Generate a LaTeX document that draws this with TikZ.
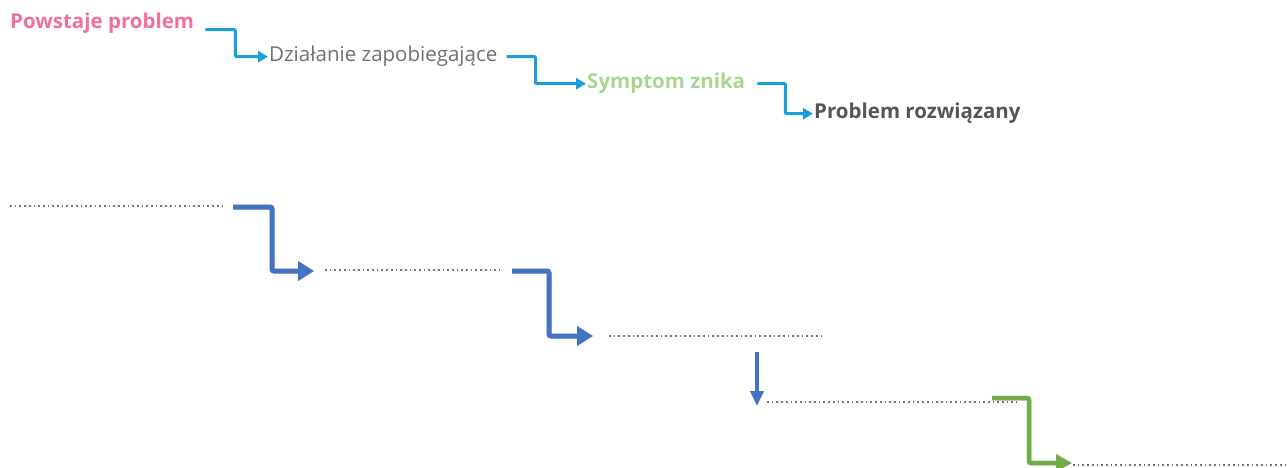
\documentclass[tikz,border=0pt]{standalone}
\usepackage{fontspec}
\setmainfont{Open Sans}
\usetikzlibrary{arrows.meta}
\definecolor{pinkt}{HTML}{F0709A}
\definecolor{grayt}{HTML}{707070}
\definecolor{greent}{HTML}{A8D590}
\definecolor{darkt}{HTML}{555555}
\definecolor{cyanar}{HTML}{1B9FDA}
\definecolor{bluear}{HTML}{4472C4}
\definecolor{greenar}{HTML}{70AD47}
\tikzset{
  lbl/.style={anchor=base west, inner sep=1pt, font=\fontsize{20.5}{24}\selectfont},
  boldlbl/.style={lbl, font=\fontsize{20.5}{24}\selectfont\bfseries},
  toparrow/.style={draw=cyanar, line width=3pt, rounded corners=1pt, -{Triangle[length=10pt,width=11pt]}},
  bigarrow/.style={line width=5pt, rounded corners=2pt, -{Triangle[length=16pt,width=19pt]}},
  shadowline/.style={draw=black, opacity=0.16, line width=5pt, rounded corners=2pt, -{Triangle[length=16pt,width=19pt]}},
  dots/.style={draw=black!55, line width=1.4pt, dash pattern=on 1.7pt off 3pt},
}
\begin{document}
\begin{tikzpicture}[x=1pt,y=-1pt]
\useasboundingbox (0,0) rectangle (1287,468);
% top row
\node[boldlbl, text=pinkt] (t1) at (9,29) {Powstaje problem};
\node[lbl, text=grayt] (t2) at (268,62) {Działanie zapobiegające};
\node[boldlbl, text=greent] (t3) at (586,89) {Symptom znika};
\node[boldlbl, text=darkt] (t4) at (813,119) {Problem rozwiązany};
\draw[toparrow] ([xshift=10pt,yshift=-6pt]t1.east) -- ++(30,0) |- (t2.west);
\draw[toparrow] ([xshift=8pt]t2.east) -- ++(29,0) |- (t3.west);
\draw[toparrow] ([xshift=11pt]t3.east) -- ++(28,0) |- (t4.west);
% dotted lines
\coordinate (d1s) at (10,206); \coordinate (d1e) at (222,206);
\coordinate (d2s) at (325,270); \coordinate (d2e) at (500,270);
\coordinate (d3s) at (609,336); \coordinate (d3e) at (823,336);
\coordinate (d4s) at (767,402); \coordinate (d4e) at (1017,402);
\coordinate (d5s) at (1073,465); \coordinate (d5e) at (1287,465);
\foreach \i in {1,...,5} \draw[dots] (d\i s) -- (d\i e);
% arrow ends
\coordinate (a1s) at (233,207); \coordinate (a1e) at (314,271);
\coordinate (a2s) at (512,271); \coordinate (a2e) at (593,336);
\coordinate (a3s) at (757,352); \coordinate (a3e) at (757,406);
\coordinate (a4s) at (992,398); \coordinate (a4e) at (1072,463);
% shadows
\begin{scope}[shift={(2,3)}]
\draw[shadowline] (a1s) -- ++(39,0) |- (a1e);
\draw[shadowline] (a2s) -- ++(37,0) |- (a2e);
\draw[shadowline, line width=4pt, -{Triangle[length=15pt,width=13pt]}] (a3s) -- (a3e);
\draw[shadowline] (a4s) -- ++(37,0) |- (a4e);
\end{scope}
\draw[bigarrow, draw=bluear] (a1s) -- ++(39,0) |- (a1e);
\draw[bigarrow, draw=bluear] (a2s) -- ++(37,0) |- (a2e);
\draw[bigarrow, draw=bluear, line width=4pt, -{Triangle[length=15pt,width=13pt]}] (a3s) -- (a3e);
\draw[bigarrow, draw=greenar, line width=4.5pt, -{Triangle[length=16pt,width=16pt]}] (a4s) -- ++(37,0) |- (a4e);
\end{tikzpicture}
\end{document}
